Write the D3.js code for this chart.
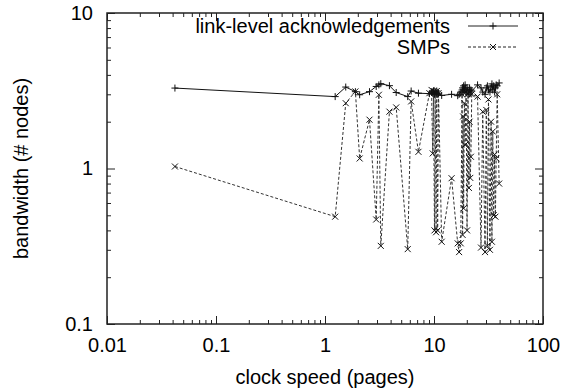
<!DOCTYPE html>
<html>
<head>
<meta charset="utf-8">
<script src="https://cdn.jsdelivr.net/npm/d3@7"></script>
<style>
  body { margin: 0; background: #fff; }
  text { font-family: "Liberation Sans", Arial, Helvetica, sans-serif; fill: #000; }
</style>
</head>
<body>
<svg id="chart" width="568" height="390"></svg>
<script>
// data
const pages = [0.042, 1.24, 1.55, 1.9, 2.08, 2.56, 2.95, 3.12, 3.25, 3.9, 4.5, 5.74, 6.17, 7.2,
  9.08, 9.5, 9.73, 9.9, 10.1, 10.25, 10.45, 10.6, 10.8, 11.0, 11.76, 14.5, 16.5, 17.0, 17.6,
  18.1, 18.3, 18.5, 18.7, 19.0, 19.3, 19.7, 20.1, 20.5, 20.9, 21.2, 21.5, 21.8, 22.2, 25.1,
  27.0, 28.0, 29.4, 30.2, 30.9, 31.6, 32.6, 33.4, 34.0, 34.6, 35.3, 36.0, 36.6, 37.2, 38.0, 39.6];

const linkAck = [3.29, 2.90, 3.34, 3.12, 2.98, 3.12, 3.37, 3.45, 3.51, 3.41, 3.08, 2.90, 3.15, 3.05,
  3.03, 3.10, 3.05, 3.15, 3.00, 3.10, 3.05, 3.15, 3.00, 3.05, 2.95, 3.00, 2.94, 3.00, 3.10,
  3.20, 3.30, 3.10, 3.40, 3.20, 3.45, 3.10, 3.30, 3.20, 3.00, 3.30, 3.10, 3.20, 3.15, 3.45,
  3.30, 3.10, 3.00, 3.30, 3.40, 3.20, 3.10, 3.35, 3.50, 3.20, 3.40, 3.10, 3.30, 3.45, 3.40, 3.55];

const smps = [1.03, 0.49, 2.63, 3.13, 1.16, 2.06, 0.47, 2.98, 0.318, 2.32, 2.47, 0.303, 2.70, 1.28,
  3.05, 3.20, 1.25, 3.15, 0.40, 3.10, 0.389, 3.15, 0.40, 3.05, 0.338, 0.866, 0.33, 0.29, 0.33,
  3.00, 0.374, 2.16, 0.555, 2.63, 1.42, 3.10, 0.40, 3.00, 0.75, 2.00, 0.87, 1.19, 3.00, 2.90,
  0.31, 2.32, 0.29, 2.38, 0.318, 2.78, 0.30, 2.00, 0.338, 1.73, 0.50, 1.23, 0.49, 1.16, 3.00, 0.80];

const xTicks = [0.01, 0.1, 1, 10, 100];
const xTickLabels = ["0.01", "0.1", "1", "10", "100"];
const yTicks = [0.1, 1, 10];
const yTickLabels = ["0.1", "1", "10"];
const seriesNames = ["link-level acknowledgements", "SMPs"];

// layout
let margin = {left: 107, right: 543, top: 13, bottom: 324};
const svg = d3.select("#chart");

const x = d3.scaleLog().domain([0.01, 100]).range([margin.left, margin.right]);
const y = d3.scaleLog().domain([0.1, 10]).range([margin.bottom, margin.top]);

// minor tick positions (2..9 in every decade)
function minors(lo, hi) {
  let out = [];
  for (let d = lo; d < hi * 0.99; d *= 10)
    for (let k = 2; k <= 9; k++) out.push(d * k);
  return out;
}
const xMinor = minors(0.01, 100);
const yMinor = minors(0.1, 10);

const majorLen = 8, minorLen = 4;

function styleAxis(g) {
  g.select(".domain").remove();
  g.selectAll(".tick line").attr("stroke", "#222").attr("stroke-width", 1);
}

// bottom + top axes
svg.append("g").attr("transform", "translate(0," + margin.bottom + ")")
  .call(d3.axisBottom(x).tickValues(xTicks).tickSize(-majorLen).tickPadding(14)
    .tickFormat((d, i) => xTickLabels[i]))
  .call(styleAxis)
  .selectAll("text").attr("font-size", 20);
svg.append("g").attr("transform", "translate(0," + margin.bottom + ")")
  .call(d3.axisBottom(x).tickValues(xMinor).tickSize(-minorLen).tickFormat(""))
  .call(styleAxis);
svg.append("g").attr("transform", "translate(0," + margin.top + ")")
  .call(d3.axisTop(x).tickValues(xTicks).tickSize(-majorLen).tickFormat(""))
  .call(styleAxis);
svg.append("g").attr("transform", "translate(0," + margin.top + ")")
  .call(d3.axisTop(x).tickValues(xMinor).tickSize(-minorLen).tickFormat(""))
  .call(styleAxis);

// left + right axes
svg.append("g").attr("transform", "translate(" + margin.left + ",0)")
  .call(d3.axisLeft(y).tickValues(yTicks).tickSize(-majorLen).tickPadding(14)
    .tickFormat((d, i) => yTickLabels[i]))
  .call(styleAxis)
  .selectAll("text").attr("font-size", 20);
svg.append("g").attr("transform", "translate(" + margin.left + ",0)")
  .call(d3.axisLeft(y).tickValues(yMinor).tickSize(-minorLen).tickFormat(""))
  .call(styleAxis);
svg.append("g").attr("transform", "translate(" + margin.right + ",0)")
  .call(d3.axisRight(y).tickValues(yTicks).tickSize(-majorLen).tickFormat(""))
  .call(styleAxis);
svg.append("g").attr("transform", "translate(" + margin.right + ",0)")
  .call(d3.axisRight(y).tickValues(yMinor).tickSize(-minorLen).tickFormat(""))
  .call(styleAxis);

svg.selectAll("g").attr("font-family", null);

// frame
svg.append("rect")
  .attr("x", margin.left).attr("y", margin.top)
  .attr("width", margin.right - margin.left).attr("height", margin.bottom - margin.top)
  .attr("fill", "none").attr("stroke", "#222").attr("stroke-width", 1.5);

// axis titles
svg.append("text")
  .attr("x", (margin.left + margin.right) / 2).attr("y", 384)
  .attr("text-anchor", "middle").attr("font-size", 20)
  .text("clock speed (pages)");
svg.append("text")
  .attr("transform", "translate(28," + (margin.top + margin.bottom) / 2 + ") rotate(-90)")
  .attr("text-anchor", "middle").attr("font-size", 20)
  .text("bandwidth (# nodes)");

// series
const plusPath = "M-3.5,0H3.5M0,-3.5V3.5";
const crossPath = "M-3,-3L3,3M-3,3L3,-3";

const linkData = pages.map((p, i) => [p, linkAck[i]]);
const smpData = pages.map((p, i) => [p, smps[i]]);

const line = d3.line().x(d => x(d[0])).y(d => y(d[1]));

svg.append("path").datum(smpData)
  .attr("d", line).attr("fill", "none")
  .attr("stroke", "#333").attr("stroke-width", 1)
  .attr("stroke-dasharray", "3,2");
svg.append("g").selectAll("path").data(smpData).enter().append("path")
  .attr("d", crossPath)
  .attr("transform", d => "translate(" + x(d[0]) + "," + y(d[1]) + ")")
  .attr("stroke", "#111").attr("stroke-width", 1).attr("fill", "none");

svg.append("path").datum(linkData)
  .attr("d", line).attr("fill", "none")
  .attr("stroke", "#111").attr("stroke-width", 1);
svg.append("g").selectAll("path").data(linkData).enter().append("path")
  .attr("d", plusPath)
  .attr("transform", d => "translate(" + x(d[0]) + "," + y(d[1]) + ")")
  .attr("stroke", "#111").attr("stroke-width", 1).attr("fill", "none");

// legend
const legendRows = [
  {name: seriesNames[0], dash: null, marker: plusPath, y: 26},
  {name: seriesNames[1], dash: "3,2", marker: crossPath, y: 47}
];
const legend = svg.append("g");
legendRows.forEach(r => {
  legend.append("text")
    .attr("x", 450).attr("y", r.y).attr("dy", "0.35em")
    .attr("text-anchor", "end").attr("font-size", 20)
    .text(r.name);
  legend.append("line")
    .attr("x1", 468).attr("x2", 518).attr("y1", r.y).attr("y2", r.y)
    .attr("stroke", "#222").attr("stroke-width", 1)
    .attr("stroke-dasharray", r.dash);
  legend.append("path")
    .attr("d", r.marker)
    .attr("transform", "translate(493," + r.y + ")")
    .attr("stroke", "#111").attr("fill", "none");
});
</script>
</body>
</html>
